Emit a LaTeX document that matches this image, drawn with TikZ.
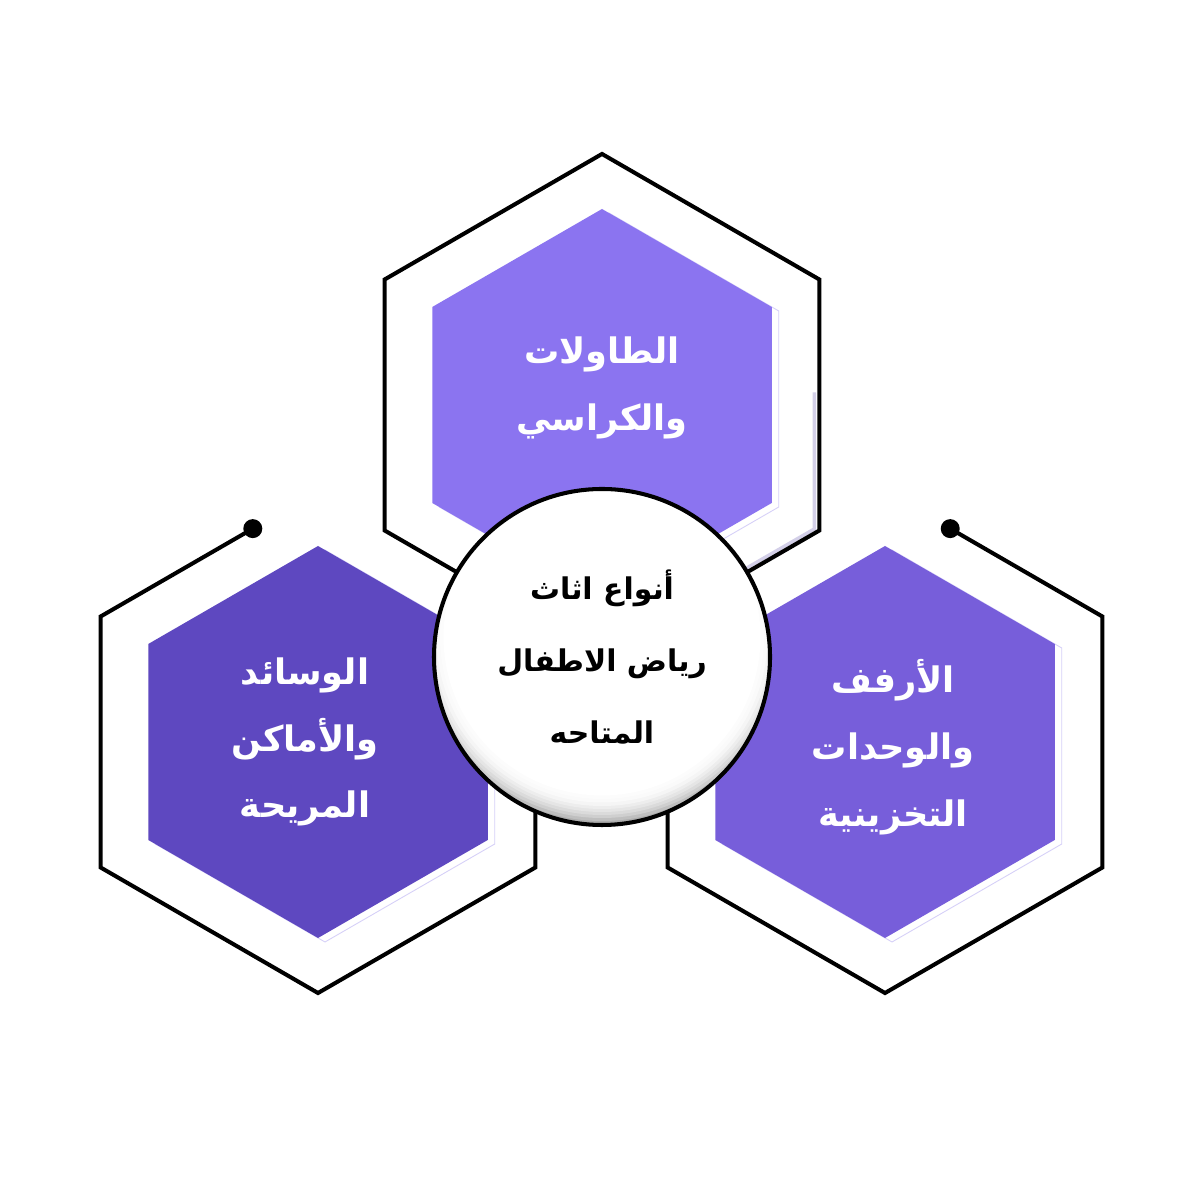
\documentclass[tikz,border=0pt]{standalone}
\usepackage{fontspec}
\usepackage{xcolor}
\usepackage{tikz}
\usetikzlibrary{shapes.geometric,calc}
\TeXXeTstate=1
\newfontfamily\arabicfont[Script=Arabic]{DejaVu Sans}
\definecolor{hexlilac}{HTML}{8B74F0}
\definecolor{hexdeep}{HTML}{5E48C0}
\definecolor{hexmid}{HTML}{775EDA}
\definecolor{hexshade}{HTML}{D6D0F8}
\definecolor{frameshade}{HTML}{D3CFE8}
\tikzset{
    hexfill/.style={
        regular polygon, regular polygon sides=6, shape border rotate=30,
        minimum size=7.84cm, inner sep=0pt, outer sep=0pt, draw=none
    },
    hexshadow/.style={hexfill, draw=hexshade, line width=0.5pt},
    hexframe/.style={
        regular polygon, regular polygon sides=6, shape border rotate=30,
        minimum size=10.04cm, inner sep=0pt, outer sep=0pt
    },
    frameline/.style={draw=black, line width=2.3pt},
    hub/.style={
        circle, minimum size=6.72cm, inner sep=0pt, draw=black,
        line width=2.3pt, align=center,
        font=\arabicfont\bfseries\fontsize{17}{41}\selectfont
    },
    hexlabel/.style={
        align=center, text=white,
        font=\arabicfont\bfseries\fontsize{20}{38}\selectfont
    }
}

\begin{document}
\begin{tikzpicture}[x=1cm, y=1cm]

\useasboundingbox[fill=white] (0,0) rectangle (24,24);

%% Soft shadows behind the three filled hexagons
\node[hexshadow] (shadowT) at (12.18, 15.82) {};
\node[hexshadow] (shadowL) at (6.50, 9.08) {};
\node[hexshadow] (shadowR) at (17.84, 9.08) {};

%% Filled hexagons -- top at (12.04, 15.9), left/right at y = 9.16
\node[hexfill, fill=hexlilac] (hexT) at (12.04, 15.9) {};
\node[hexfill, fill=hexdeep]  (hexL) at (6.36, 9.16) {};
\node[hexfill, fill=hexmid]   (hexR) at (17.70, 9.16) {};

%% Outer frames
\node[hexframe] (frameT) at (12.04, 15.9) {};
\node[hexframe] (frameL) at (6.36, 9.16) {};
\node[hexframe] (frameR) at (17.70, 9.16) {};

%% faint shade inside the right edge of the top frame
\draw[frameshade, line width=2pt]
    ($(frameT.30)!0.45!(frameT.330)+(-0.1,0)$) -- ($(frameT.330)+(-0.1,0.03)$)
    -- ($(frameT.330)!0.35!(frameT.270)+(-0.1,0.03)$);

%% top frame is closed, the circle hides its lower corner
\draw[frameline] (frameT.90) -- (frameT.150) -- (frameT.210) -- (frameT.270)
    -- (frameT.330) -- (frameT.30) -- cycle;

%% side frames start at a dot on the upper edge
\coordinate (dotL) at ($(frameL.90)!0.3!(frameL.150)$);
\coordinate (dotR) at ($(frameR.90)!0.3!(frameR.30)$);
\draw[frameline] (dotL) -- (frameL.150) -- (frameL.210) -- (frameL.270)
    -- (frameL.330) -- (frameL.30);
\draw[frameline] (dotR) -- (frameR.30) -- (frameR.330) -- (frameR.270)
    -- (frameR.210) -- (frameR.150);
\fill (dotL) circle (0.19);
\fill (dotR) circle (0.19);

%% Labels
\node[hexlabel] (tables)  at (12.04, 16.24)
    {\beginR الطاولات\endR\\ \beginR والكراسي\endR};
\node[hexlabel] (cushions) at (6.10, 9.16)
    {\beginR الوسائد\endR\\ \beginR والأماكن\endR\\ \beginR المريحة\endR};
\node[hexlabel] (shelves)  at (17.86, 9.06)
    {\beginR الأرفف\endR\\ \beginR والوحدات\endR\\ \beginR التخزينية\endR};

%% Central circle, greyed towards its lower rim
\coordinate (hubc) at (12.04, 10.86);
\begin{scope}
    \clip (hubc) circle (3.36);
    \foreach \r/\g in {3.80/40, 3.74/32, 3.68/25, 3.62/19, 3.56/14,
                       3.50/10, 3.44/7, 3.38/4, 3.31/2, 3.24/1, 3.17/0}
        \fill[black!\g] ($(hubc)+(0,0.4)$) circle (\r);
\end{scope}
\node[hub] (hub) at (hubc)
    {\beginR أنواع اثاث\endR\\ \beginR رياض الاطفال\endR\\ \beginR المتاحه\endR};

\end{tikzpicture}
\end{document}
